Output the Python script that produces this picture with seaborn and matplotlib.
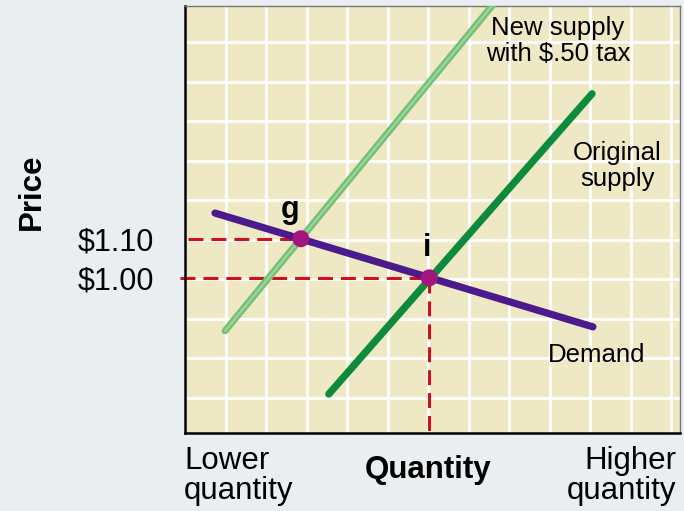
import matplotlib
matplotlib.use('Agg')
import matplotlib.pyplot as plt
import seaborn as sns
import pandas as pd

# grid units: one cell = 1, price/quantity in chart units
demand_q = [0.74, 10.07]
demand_p = [4.68, 1.80]
supply_q = [3.55, 10.05]
supply_p = [0.10, 7.70]
new_supply_q = [0.99, 7.60]
new_supply_p = [1.70, 9.95]

eq_names = ['g', 'i']
eq_q = [2.86, 6.03]
eq_p = [4.03, 3.04]
price_labels = ['$1.10', '$1.00']

sns.set_style('white')
plt.rcParams['font.family'] = ['Liberation Sans', 'DejaVu Sans']
plt.rcParams['text.color'] = 'black'
plt.rcParams['ytick.labelcolor'] = 'black'

fig = plt.figure(figsize=(6.84, 5.11), dpi=100, facecolor='#ebeef0')
ax = fig.add_axes([185 / 684, 78 / 511, 495 / 684, 427 / 511])
ax.set_facecolor('#efe8c4')

ax.set_xlim(0, 12.22)
ax.set_ylim(-0.886, 9.92)

# white grid
ax.set_xticks(range(1, 13), minor=True)
ax.set_yticks(range(0, 10), minor=True)
ax.grid(which='minor', color='white', linewidth=2)
ax.set_xticks([])
ax.tick_params(which='both', length=0)

# dashed guides
ax.plot([0.07, eq_q[0]], [eq_p[0], eq_p[0]], color='#d0101a', lw=2.2,
        linestyle=(0, (4.9, 2.6)), zorder=2)
ax.plot([-0.12, eq_q[1]], [eq_p[1], eq_p[1]], color='#d0101a', lw=2.2,
        linestyle=(0, (4.9, 2.6)), clip_on=False, zorder=2)
ax.plot([eq_q[1], eq_q[1]], [eq_p[1], -0.95], color='#d0101a', lw=2.2,
        linestyle=(0, (4.9, 2.6)), clip_on=False, zorder=2)

# curves
sns.lineplot(x=new_supply_q, y=new_supply_p, color='#74c076', lw=5,
             solid_capstyle='round', ax=ax, zorder=3)
sns.lineplot(x=new_supply_q, y=new_supply_p, color='#9fd69c', lw=1.5,
             solid_capstyle='round', ax=ax, zorder=3)
sns.lineplot(x=supply_q, y=supply_p, color='#0e8a3c', lw=5.2,
             solid_capstyle='round', ax=ax, zorder=3)
sns.lineplot(x=demand_q, y=demand_p, color='#4b1a8c', lw=5.2,
             solid_capstyle='round', ax=ax, zorder=4)

pts = pd.DataFrame({'q': eq_q, 'p': eq_p, 'name': eq_names})
sns.scatterplot(data=pts, x='q', y='p', color='#a3157f', s=150,
                edgecolor='none', ax=ax, zorder=5)

ax.set_yticks(eq_p, price_labels, fontsize=22)
ax.tick_params(axis='y', pad=22, labelcolor='black')
ax.set_xlabel('')
ax.set_ylabel('')

# point labels
ax.text(2.59, 4.76, 'g', fontsize=22, fontweight='bold', ha='center', va='center')
ax.text(5.98, 3.80, 'i', fontsize=22, fontweight='bold', ha='center', va='center')

# curve labels
ax.text(9.21, 9.04, 'New supply\nwith $.50 tax', fontsize=18.5, ha='center',
        va='center', linespacing=1.1)
ax.text(10.67, 5.87, 'Original\nsupply', fontsize=18.5, ha='center',
        va='center', linespacing=1.1)
ax.text(10.17, 1.09, 'Demand', fontsize=18.5, ha='center', va='center')

for side in ['left', 'bottom']:
    ax.spines[side].set_color('black')
    ax.spines[side].set_linewidth(1.8)
for side in ['top', 'right']:
    ax.spines[side].set_visible(True)
    ax.spines[side].set_color('#777777')
    ax.spines[side].set_linewidth(1)

# axis titles
fig.text(32 / 684, 1 - 192 / 511, 'Price', rotation=90, fontsize=22.5,
         fontweight='bold', ha='center', va='center')
fig.text(184 / 684, 1 - 476 / 511, 'Lower\nquantity', fontsize=22.5,
         ha='left', va='center', linespacing=1.0)
fig.text(676 / 684, 1 - 476 / 511, 'Higher\nquantity', fontsize=22.5,
         ha='right', va='center', multialignment='right', linespacing=1.0)
fig.text(428 / 684, 1 - 470 / 511, 'Quantity', fontsize=22.5,
         fontweight='bold', ha='center', va='center')

fig.savefig('out.png', dpi=100, facecolor=fig.get_facecolor())
